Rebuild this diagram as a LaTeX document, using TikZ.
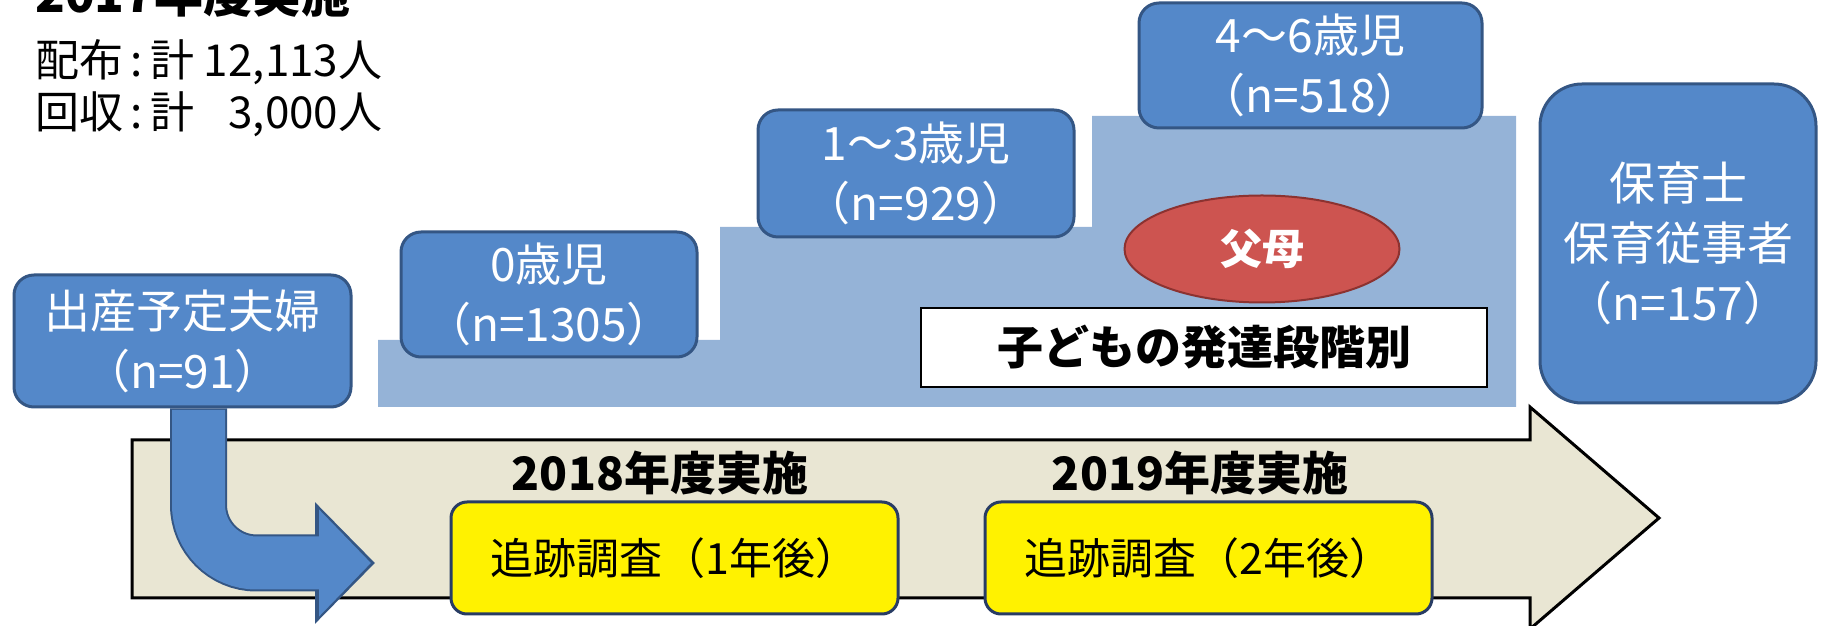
\documentclass[tikz,border=0pt]{standalone}
\usepackage{fontspec}
\setmainfont{Noto Sans CJK JP}
\usepackage{tikz}
\usetikzlibrary{positioning, shapes.geometric, arrows.meta}

\definecolor{boxblue}{RGB}{84,136,201}
\definecolor{boxedge}{RGB}{52,86,132}
\definecolor{stairblue}{RGB}{149,179,215}
\definecolor{ovalred}{RGB}{205,84,80}
\definecolor{ovaledge}{RGB}{140,50,48}
\definecolor{timetan}{RGB}{233,230,211}
\definecolor{followedge}{RGB}{40,60,100}

\begin{document}
\begin{tikzpicture}[
    x=1pt, y=1pt,
    agebox/.style={rectangle, rounded corners=20pt, draw=boxedge, line width=3pt, fill=boxblue, text=white, align=center, inner sep=0pt, font=\fontsize{46}{60}\selectfont},
    followbox/.style={rectangle, rounded corners=16pt, draw=followedge, line width=3pt, fill=yellow, minimum width=447pt, minimum height=112pt, font=\fontsize{43}{50}\selectfont},
    yearlabel/.style={inner sep=0pt, font=\fontsize{46}{50}\selectfont\bfseries},
    stagebox/.style={rectangle, draw=black, line width=2pt, fill=white, minimum width=566pt, minimum height=79pt, font=\fontsize{46}{50}\selectfont\bfseries},
    parents/.style={ellipse, draw=ovaledge, line width=2pt, fill=ovalred, text=white, minimum width=275pt, minimum height=107pt, font=\fontsize{42}{48}\selectfont\bfseries},
    infotext/.style={anchor=base west, inner sep=0pt, font=\fontsize{44}{50}\selectfont},
    bendarrow/.style={line width=53pt, draw=boxblue, rounded corners=58pt}
]

\useasboundingbox (0,0) rectangle (1822,626);

% Steps behind the age groups
\fill[stairblue] (378,219) -- (378,286) -- (720,286) -- (720,399) -- (1092,399) -- (1092,510) -- (1516,510) -- (1516,219) -- cycle;

% Time line
\draw[line width=3pt, fill=timetan] (132,28) -- (1530,28) -- (1530,-3) -- (1659,108) -- (1530,219) -- (1530,186) -- (132,186) -- cycle;

% Survey of 2017
\node[infotext, font=\fontsize{49}{50}\selectfont\bfseries] (survey) at (35,613) {2017年度実施};
\node[infotext] (sent) at (35,549) {配布\,:\,計 12,113人};
\node[infotext] (back) at (35,497) {回収\,:\,計 \hphantom{1}3,000人};

% Groups
\node[agebox, minimum width=337pt, minimum height=132pt] (couple) at (182.5,285) {出産予定夫婦\\（n=91）};
\node[agebox, minimum width=296pt, minimum height=125pt] (age0) at (549,331.5) {0歳児\\（n=1305）};
\node[agebox, minimum width=316pt, minimum height=127pt, above right=-8pt and 58pt of age0] (age13) {1～3歳児\\（n=929）};
\node[agebox, minimum width=343pt, minimum height=125pt, above right=-21pt and 62pt of age13] (age46) {4～6歳児\\（n=518）};
\node[agebox, minimum width=276pt, minimum height=319pt, rounded corners=42pt] (staff) at (1678,382.5) {保育士\\保育従事者\\（n=157）};

\node[parents] (parent) at (1262,377) {父母};
\node[stagebox] (stage) at (1204,278.5) {子どもの発達段階別};

% Follow-up surveys
\node[followbox] (follow1) at (674.5,68) {追跡調査（1年後）};
\node[followbox, right=84pt of follow1] (follow2) {追跡調査（2年後）};
\node[yearlabel] (year1) at (660,153) {2018年度実施};
\node[yearlabel] (year2) at (1200,153) {2019年度実施};

% Couples go on to the follow-up
\coordinate (bendend) at (375,63);
\draw[bendarrow, draw=boxedge, line width=57pt, -{Triangle[width=118pt,length=60pt]}] ([xshift=16pt]couple.south) |- (bendend);
\draw[bendarrow, shorten >=4pt, -{Triangle[width=104pt,length=52pt]}] ([xshift=16pt, yshift=-1.5pt]couple.south) |- (bendend);

\end{tikzpicture}
\end{document}
